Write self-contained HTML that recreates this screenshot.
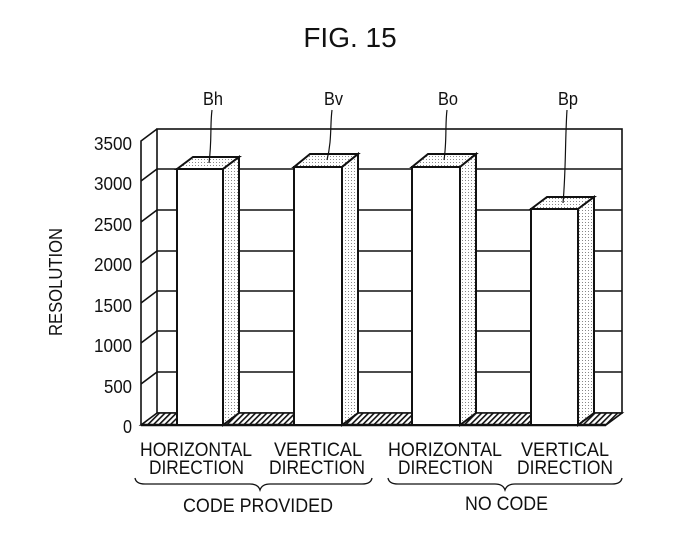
<!DOCTYPE html>
<html><head><meta charset="utf-8"><style>
html,body{margin:0;padding:0;background:#fff;width:680px;height:534px;overflow:hidden}
svg{display:block}
text{font-family:"Liberation Sans",sans-serif;fill:#111}
</style></head><body>
<svg width="680" height="534" viewBox="0 0 680 534" xmlns="http://www.w3.org/2000/svg">
<defs>
<pattern id="dots" width="3" height="3" patternUnits="userSpaceOnUse">
<rect width="3" height="3" fill="#fff"/><rect width="1" height="1" fill="#888"/>
</pattern>
<pattern id="hatch" width="4" height="4" patternUnits="userSpaceOnUse" patternTransform="rotate(45)">
<rect width="4" height="4" fill="#fff"/><rect width="1.6" height="4" fill="#111"/>
</pattern>
</defs>
<text x="350" y="47" font-size="28" text-anchor="middle">FIG. 15</text>

<g stroke="#111" stroke-width="1.6" fill="none">
<rect x="157" y="129" width="465" height="284"/>
<line x1="157" y1="169" x2="622" y2="169"/>
<line x1="157" y1="210" x2="622" y2="210"/>
<line x1="157" y1="251" x2="622" y2="251"/>
<line x1="157" y1="291" x2="622" y2="291"/>
<line x1="157" y1="331" x2="622" y2="331"/>
<line x1="157" y1="372" x2="622" y2="372"/>
<polyline points="141,425 141,141 157,129"/>
<line x1="141" y1="181" x2="157" y2="169"/>
<line x1="141" y1="222" x2="157" y2="210"/>
<line x1="141" y1="263" x2="157" y2="251"/>
<line x1="141" y1="303" x2="157" y2="291"/>
<line x1="141" y1="343" x2="157" y2="331"/>
<line x1="141" y1="384" x2="157" y2="372"/>
</g>
<polygon points="141,425 157,413 622,413 606,425" fill="url(#hatch)" stroke="#111" stroke-width="1.6"/>
<line x1="141" y1="425" x2="606" y2="425" stroke="#111" stroke-width="2.5"/>

<g stroke="#111" stroke-width="2">
<polygon points="177,169 193,157 239,157 223,169" fill="url(#dots)"/>
<polygon points="223,169 239,157 239,413 223,425" fill="url(#dots)"/>
<rect x="177" y="169" width="46" height="256" fill="#fff"/>
<polygon points="294,167 310,154 358,154 342,167" fill="url(#dots)"/>
<polygon points="342,167 358,154 358,413 342,425" fill="url(#dots)"/>
<rect x="294" y="167" width="48" height="258" fill="#fff"/>
<polygon points="412,167 428,154 476,154 460,167" fill="url(#dots)"/>
<polygon points="460,167 476,154 476,413 460,425" fill="url(#dots)"/>
<rect x="412" y="167" width="48" height="258" fill="#fff"/>
<polygon points="531,209 547,197 594,197 578,209" fill="url(#dots)"/>
<polygon points="578,209 594,197 594,413 578,425" fill="url(#dots)"/>
<rect x="531" y="209" width="47" height="216" fill="#fff"/>
</g>

<g stroke="#111" stroke-width="1.2" fill="none">
<path d="M212,110 C210,125 212,140 209,163"/>
<path d="M332,110 C330,125 332,140 327,160"/>
<path d="M447,110 C445,125 447,140 444,160"/>
<path d="M567,110 C565,140 566,170 563,203"/>
</g>
<g font-size="18">
<text x="203" y="105" textLength="20" lengthAdjust="spacingAndGlyphs">Bh</text>
<text x="324" y="105" textLength="19" lengthAdjust="spacingAndGlyphs">Bv</text>
<text x="438" y="105" textLength="20" lengthAdjust="spacingAndGlyphs">Bo</text>
<text x="558" y="105" textLength="20" lengthAdjust="spacingAndGlyphs">Bp</text>
</g>

<g font-size="18">
<text x="94" y="150" textLength="38" lengthAdjust="spacingAndGlyphs">3500</text>
<text x="94" y="190" textLength="38" lengthAdjust="spacingAndGlyphs">3000</text>
<text x="94" y="231" textLength="38" lengthAdjust="spacingAndGlyphs">2500</text>
<text x="94" y="271" textLength="38" lengthAdjust="spacingAndGlyphs">2000</text>
<text x="94" y="312" textLength="38" lengthAdjust="spacingAndGlyphs">1500</text>
<text x="94" y="352" textLength="38" lengthAdjust="spacingAndGlyphs">1000</text>
<text x="104" y="393" textLength="28" lengthAdjust="spacingAndGlyphs">500</text>
<text x="123" y="433" textLength="9" lengthAdjust="spacingAndGlyphs">0</text>
</g>
<text transform="translate(62,282) rotate(-90)" font-size="18" text-anchor="middle" textLength="108" lengthAdjust="spacingAndGlyphs">RESOLUTION</text>

<g font-size="19">
<text x="140" y="456" textLength="112" lengthAdjust="spacingAndGlyphs">HORIZONTAL</text>
<text x="149" y="474" textLength="95" lengthAdjust="spacingAndGlyphs">DIRECTION</text>
<text x="274" y="456" textLength="88" lengthAdjust="spacingAndGlyphs">VERTICAL</text>
<text x="269" y="474" textLength="96" lengthAdjust="spacingAndGlyphs">DIRECTION</text>
<text x="388" y="456" textLength="114" lengthAdjust="spacingAndGlyphs">HORIZONTAL</text>
<text x="398" y="474" textLength="95" lengthAdjust="spacingAndGlyphs">DIRECTION</text>
<text x="521" y="456" textLength="88" lengthAdjust="spacingAndGlyphs">VERTICAL</text>
<text x="517" y="474" textLength="96" lengthAdjust="spacingAndGlyphs">DIRECTION</text>
<text x="183" y="512" textLength="150" lengthAdjust="spacingAndGlyphs">CODE PROVIDED</text>
<text x="465" y="510" textLength="83" lengthAdjust="spacingAndGlyphs">NO CODE</text>
</g>
<g stroke="#111" stroke-width="1.3" fill="none">
<path d="M135,478 Q136,484 145,484 L250,484 Q258,484 260,490 Q262,484 270,484 L362,484 Q371,484 372,478"/>
<path d="M388,478 Q389,484 398,484 L495,484 Q503,484 505,490 Q507,484 515,484 L612,484 Q621,484 622,478"/>
</g>
</svg>
</body></html>
